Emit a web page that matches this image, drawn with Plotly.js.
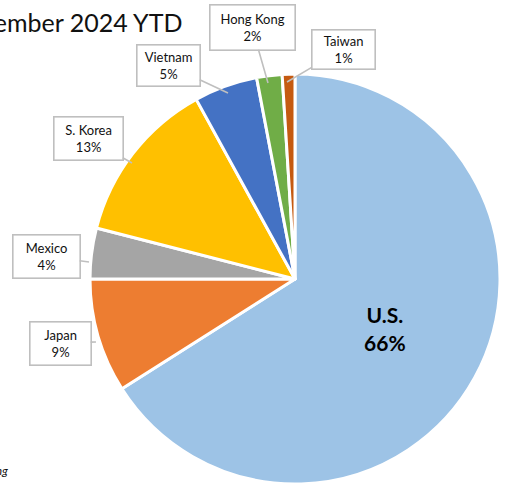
<!DOCTYPE html>
<html>
<head>
<meta charset="utf-8">
<script src="https://cdn.plot.ly/plotly-3.0.1.min.js"></script>
<style>
html,body{margin:0;padding:0;overflow:hidden;background:#fff;width:514px;height:485px;}
#chart{width:514px;height:490px;}
</style>
</head>
<body>
<div id="chart"></div>
<script>
var countries = ["U.S.", "Japan", "Mexico", "S. Korea", "Vietnam", "Hong Kong", "Taiwan"];
var shares = [66, 9, 4, 13, 5, 2, 1];
var colors = ["#9DC3E6", "#ED7D31", "#A5A5A5", "#FFC000", "#4472C4", "#70AD47", "#C55A11"];

var W = 514, H = 490;
function px(x){return x / W;}
function py(y){return 1 - y / H;}

var texts = countries.map(function(c, i){ return i === 0 ? "<b>" + c + "<br>" + shares[i] + "%</b>" : ""; });
var textpos = countries.map(function(c, i){ return i === 0 ? "inside" : "none"; });

var trace = {
  type: "pie",
  labels: countries,
  values: shares,
  sort: false,
  direction: "clockwise",
  rotation: 0,
  marker: {colors: colors, line: {color: "#ffffff", width: 3}},
  text: texts,
  textinfo: "text",
  textposition: textpos,
  insidetextorientation: "horizontal",
  insidetextfont: {family: "Lato, 'Open Sans', sans-serif", size: 21, color: "#000"},
  hoverinfo: "none",
  showlegend: false,
  domain: {x: [px(87), px(503)], y: [py(484), py(74)]}
};

// callout positions: [label index, box center x, box center y, tip x, tip y, box w, box h]
var callouts = [
  [1, 60, 343, 96, 342, 60, 42],
  [2, 46, 256, 89, 262, 66, 42],
  [3, 88, 138, 132, 163, 68, 42],
  [4, 168, 65, 228, 93, 62, 40],
  [5, 252, 27, 268, 83, 84, 44],
  [6, 343, 49, 287, 82, 62, 38]
];

var annotations = callouts.map(function(c){
  var i = c[0];
  return {
    xref: "paper", yref: "paper",
    x: px(c[3]), y: py(c[4]),
    ax: c[1] - c[3], ay: c[2] - c[4],
    text: countries[i] + "<br>" + shares[i] + "%",
    showarrow: true, arrowhead: 0, arrowwidth: 1.6, arrowcolor: "#BFBFBF",
    bordercolor: "#BFBFBF", borderwidth: 1.6, bgcolor: "#ffffff",
    width: c[5], height: c[6], borderpad: 0,
    font: {family: "Lato, 'Open Sans', sans-serif", size: 13, color: "#111"},
    align: "center"
  };
});

annotations.push({
  xref: "paper", yref: "paper", x: px(184), y: py(22),
  xanchor: "right", yanchor: "middle", showarrow: false,
  text: "January\u2013September 2024 YTD",
  font: {family: "Lato, 'Open Sans', sans-serif", size: 25, color: "#111"}
});
annotations.push({
  xref: "paper", yref: "paper", x: px(174), y: py(-3),
  xanchor: "right", yanchor: "bottom", showarrow: false,
  text: "Share of Exports by Country",
  font: {family: "Lato, 'Open Sans', sans-serif", size: 25, color: "#111"}
});
annotations.push({
  xref: "paper", yref: "paper", x: px(10), y: py(470),
  xanchor: "right", yanchor: "middle", showarrow: false,
  text: "<i>Source: Trade Data Monitoring</i>",
  font: {family: "Lato, 'Open Sans', sans-serif", size: 12, color: "#111"}
});

var layout = {
  width: W, height: H,
  margin: {l: 0, r: 0, t: 0, b: 0},
  paper_bgcolor: "#ffffff",
  showlegend: false,
  annotations: annotations
};

Plotly.newPlot("chart", [trace], layout, {displayModeBar: false, staticPlot: true});
</script>
</body>
</html>
